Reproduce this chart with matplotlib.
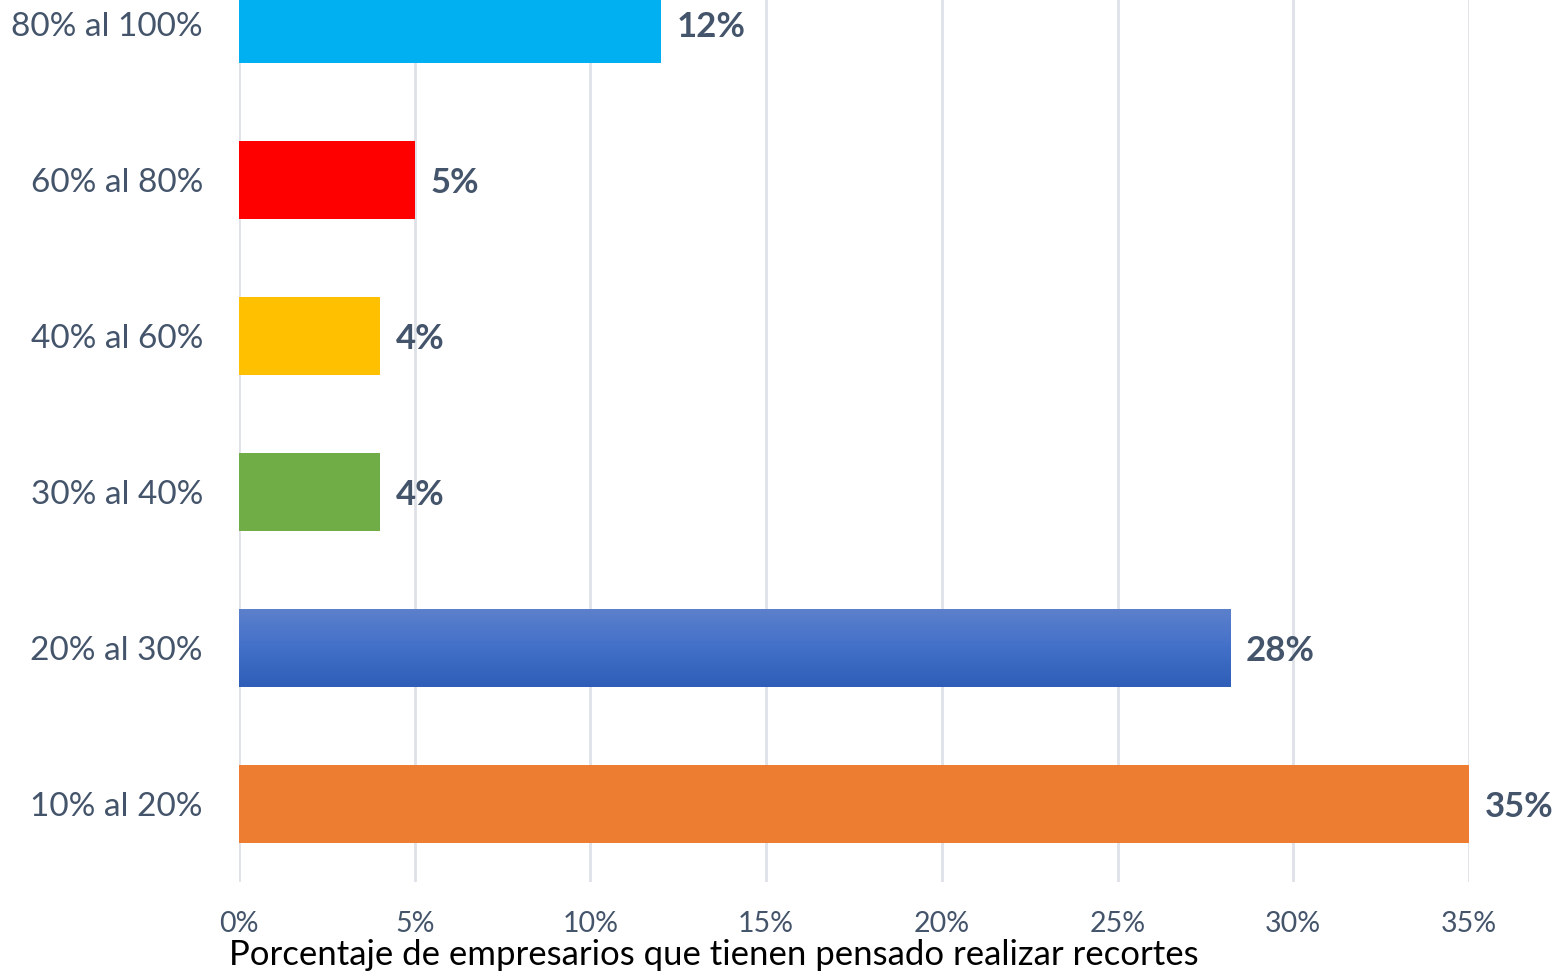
import matplotlib
matplotlib.use("Agg")
import matplotlib.pyplot as plt
import numpy as np
from matplotlib.colors import LinearSegmentedColormap

plt.rcParams["font.family"] = ["Lato", "DejaVu Sans"]

categories = ["10% al 20%", "20% al 30%", "30% al 40%", "40% al 60%", "60% al 80%", "80% al 100%"]
values = [35, 28.2, 4, 4, 5, 12]
value_labels = ["35%", "28%", "4%", "4%", "5%", "12%"]
bar_colors = ["#ED7D31", "#4472C4", "#70AD47", "#FFC000", "#FF0000", "#00B0F0"]
x_ticks = [0, 5, 10, 15, 20, 25, 30, 35]
x_label = "Porcentaje de empresarios que tienen pensado realizar recortes"

TEXT_COLOR = "#44546A"
GRID_COLOR = "#DEE2E8"

W, H = 1552, 973
fig = plt.figure(figsize=(W / 100, H / 100), dpi=100)
# axes runs past the top edge, like the cropped original
left, right = 239 / W, 1469 / W
bottom = 1 - 882 / H
top = 1 + 54 / H
ax = fig.add_axes([left, bottom, right - left, top - bottom])

y = np.arange(len(categories))
bars = ax.barh(y, values, height=0.5, color=bar_colors, zorder=2)

# gradient fill for the 20-30% bar
grad_bar = bars[1]
grad_bar.set_facecolor("none")
cmap = LinearSegmentedColormap.from_list("blue_grad", ["#2E5EB7", "#4270C9", "#5C80CB"])
bx, by = grad_bar.get_x(), grad_bar.get_y()
bw, bh = grad_bar.get_width(), grad_bar.get_height()
img = ax.imshow(
    np.linspace(0, 1, 100).reshape(-1, 1),
    cmap=cmap,
    extent=[bx, bx + bw, by, by + bh],
    origin="lower",
    aspect="auto",
    zorder=2,
)
img.set_clip_path(grad_bar)

ax.set_xlim(0, 35)
ax.set_ylim(-0.5, len(categories) - 0.5)

for yi, v, lab in zip(y, values, value_labels):
    ax.text(v + 0.45, yi - 0.02, lab, va="center", ha="left", fontsize=25,
            fontweight="bold", color=TEXT_COLOR, zorder=3)

ax.set_yticks(y)
ax.set_yticklabels(categories, fontsize=24, color=TEXT_COLOR)
ax.set_xticks(x_ticks)
ax.set_xticklabels([f"{t}%" for t in x_ticks], fontsize=20.5, color=TEXT_COLOR)
ax.tick_params(axis="y", length=0, pad=26)
ax.tick_params(axis="x", length=0, pad=21)

ax.grid(axis="x", color=GRID_COLOR, linewidth=2, zorder=0)
ax.set_axisbelow(True)
for spine in ax.spines.values():
    spine.set_visible(False)

fig.text(714 / W, 1 - 955 / H, x_label, ha="center", va="center",
         fontsize=25, color="black")

fig.savefig("out.png", dpi=100)
